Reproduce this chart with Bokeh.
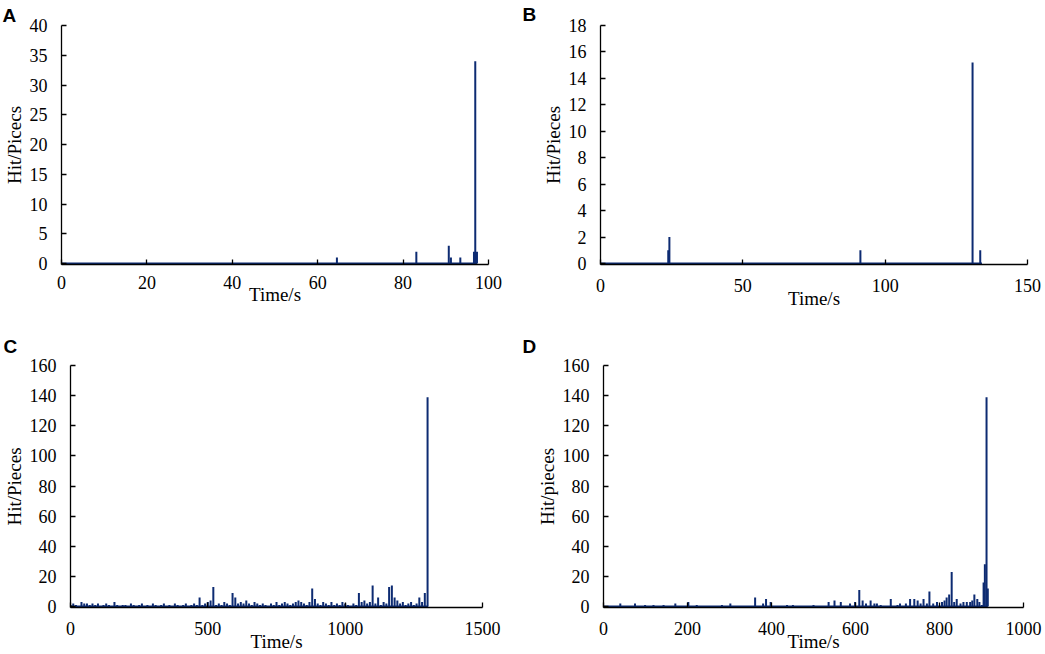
from bokeh.plotting import figure
from bokeh.layouts import row, column
from bokeh.models import Range1d, FixedTicker, Title
from bokeh.embed import file_html
from bokeh.resources import INLINE

# ---------------- data ----------------
a_time = [64.5, 83.1, 90.7, 91.2, 93.4, 96.6, 96.9, 97.3]
a_hits = [1, 2, 3, 1, 1, 2, 34, 2]
a_end = 97.3

b_time = [23.8, 24.2, 91.3, 130.7, 133.4]
b_hits = [1, 2, 1, 15.2, 1]
b_end = 134.0

c_time = list(range(0, 1310, 10))
c_hits = [1, 2, 1, 0, 3, 2, 2, 1, 2, 1,
          2, 0, 1, 2, 1, 0, 3, 1, 0, 1,
          1, 0, 2, 1, 0, 1, 2, 0, 1, 0,
          2, 1, 0, 1, 2, 0, 1, 0, 2, 1,
          0, 1, 2, 0, 1, 2, 1, 6, 1, 2,
          3, 4, 13, 1, 2, 1, 3, 2, 1, 9,
          6, 2, 3, 2, 4, 2, 1, 3, 2, 1,
          2, 1, 0, 2, 1, 3, 1, 2, 3, 2,
          1, 2, 3, 4, 3, 2, 1, 3, 12, 5,
          2, 1, 3, 2, 1, 3, 1, 2, 1, 3,
          2, 1, 0, 2, 1, 9, 3, 4, 2, 3,
          14, 2, 6, 1, 3, 2, 13, 14, 6, 4,
          2, 3, 1, 2, 3, 1, 2, 6, 3, 9,
          139]
c_end = 1302

d_time = [40, 75, 99, 119, 143, 171, 202, 222, 282, 302,
          361, 380, 387, 398, 437, 451, 500, 536, 550, 565,
          587, 599, 609, 617, 625, 636, 645, 651, 660, 684,
          700, 706, 720, 730, 740, 748, 755, 762, 770, 776,
          785, 794, 806, 812, 817, 823, 829, 835, 841, 850,
          857, 865, 873, 878, 883, 890, 895, 901, 905, 908,
          912, 915]
d_hits = [2, 2, 1, 1, 1, 2, 3, 1, 1, 2,
          6, 2, 5, 3, 1, 1, 1, 3, 4, 3,
          2, 3, 11, 4, 2, 4, 2, 2, 1, 5,
          1, 2, 2, 5, 5, 4, 2, 5, 2, 10,
          2, 3, 3, 4, 6, 8, 23, 3, 5, 2,
          3, 3, 3, 4, 8, 5, 3, 1, 16, 28,
          139, 12]
d_end = 915

a_xticks = [0, 20, 40, 60, 80, 100]
a_yticks = [0, 5, 10, 15, 20, 25, 30, 35, 40]
b_xticks = [0, 50, 100, 150]
b_yticks = [0, 2, 4, 6, 8, 10, 12, 14, 16, 18]
c_xticks = [0, 500, 1000, 1500]
c_yticks = [0, 20, 40, 60, 80, 100, 120, 140, 160]
d_xticks = [0, 200, 400, 600, 800, 1000]
d_yticks = [0, 20, 40, 60, 80, 100, 120, 140, 160]

LINE = "#0d2b72"
SERIF = "Liberation Serif"


def panel(letter, t, h, t_end, xmax, ymax, xt, yt, ylabel, w, hgt,
          bl, br, bt, bb, title_standoff, x_std, xl_std):
    eps = ymax * 0.004
    p = figure(width=w, height=hgt, output_backend="svg", toolbar_location=None,
               x_range=Range1d(0, xmax), y_range=Range1d(-eps, ymax),
               min_border_left=bl, min_border_right=br,
               min_border_top=bt, min_border_bottom=bb)
    p.outline_line_color = None
    p.grid.visible = False
    p.background_fill_color = "white"
    p.border_fill_color = "white"
    # baseline of the record and the hit spikes
    p.line([0, t_end], [0, 0], line_color=LINE, line_width=2)
    p.segment(x0=t, y0=[0] * len(t), x1=t, y1=h, line_color=LINE, line_width=2)
    for ax in (p.xaxis[0], p.yaxis[0]):
        ax.axis_line_color = "black"
        ax.axis_line_width = 1.3
        ax.major_tick_line_color = "black"
        ax.major_tick_line_width = 1.3
        ax.major_tick_in = 5
        ax.major_tick_out = 0
        ax.minor_tick_line_color = None
        ax.major_label_text_font = SERIF
        ax.major_label_text_font_size = "18px"
        ax.major_label_text_color = "black"
        ax.axis_label_text_font = SERIF
        ax.axis_label_text_font_size = "19px"
        ax.axis_label_text_font_style = "normal"
        ax.axis_label_text_color = "black"
    p.xaxis.ticker = FixedTicker(ticks=xt)
    p.yaxis.ticker = FixedTicker(ticks=yt)
    p.xaxis.axis_label = "Time/s"
    p.yaxis.axis_label = ylabel
    p.xaxis.major_label_standoff = x_std
    p.xaxis.axis_label_standoff = xl_std
    p.yaxis.major_label_standoff = 14
    p.yaxis.axis_label_standoff = 2
    p.title = Title(text=letter, align="left", offset=-bl, standoff=title_standoff,
                    text_font="Liberation Sans", text_font_style="bold",
                    text_font_size="19px", text_color="black")
    return p


pa = panel("A", a_time, a_hits, a_end, 100, 40, a_xticks, a_yticks, "Hit/Picecs",
           522, 320, 59, 34, 22, 56, 0, 11, -8)
pb = panel("B", b_time, b_hits, b_end, 150, 18, b_xticks, b_yticks, "Hit/Pieces",
           522, 320, 78, 17, 24, 51, 2, 14, -7)
pc = panel("C", c_time, c_hits, c_end, 1500, 160, c_xticks, c_yticks, "Hit/Pieces",
           522, 334, 67, 40, 45, 47, 18, 14, -7)
pd_ = panel("D", d_time, d_hits, d_end, 1000, 160, d_xticks, d_yticks, "Hit/pieces",
            522, 334, 81, 21, 44, 46, 18, 14, -7)

layout = column(row(pa, pb), row(pc, pd_))
open("out.html", "w").write(file_html(layout, INLINE))
